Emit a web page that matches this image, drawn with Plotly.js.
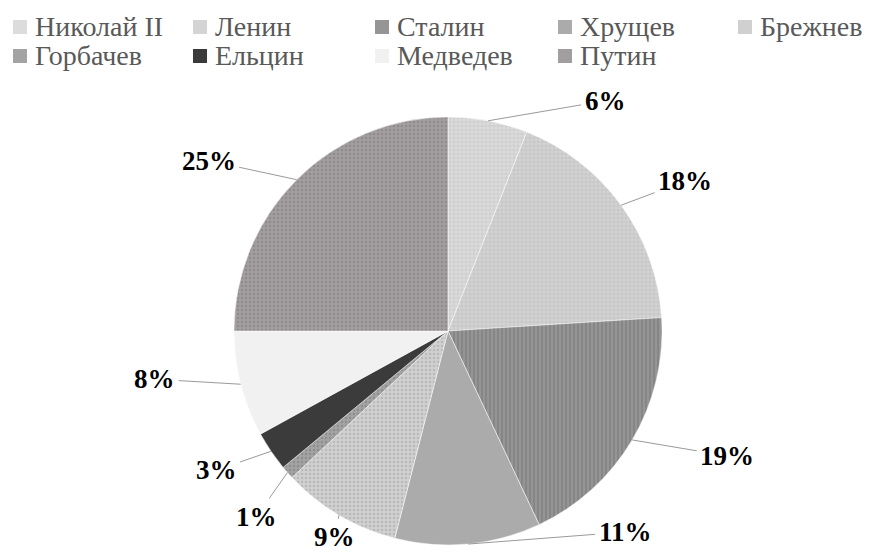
<!DOCTYPE html>
<html>
<head>
<meta charset="utf-8">
<script src="https://cdn.plot.ly/plotly-3.0.1.min.js"></script>
<style>html,body{margin:0;padding:0;background:#fff}#chart{width:869px;height:556px}</style>
</head>
<body>
<div id="chart"></div>
<script>
// ---- data ----
var leaders = ["Николай II", "Ленин", "Сталин", "Хрущев", "Брежнев", "Горбачев", "Ельцин", "Медведев", "Путин"];
var shares = [6, 18, 19, 11, 9, 1, 3, 8, 25];
var percentLabels = ["6%", "18%", "19%", "11%", "9%", "1%", "3%", "8%", "25%"];

// ---- styles (not data) ----
var sliceColors = ["#dcdcdc", "#d4d4d4", "#959595", "#ababab", "#d0d0d0", "#a3a3a3", "#3b3b3b", "#f1f1f1", "#a29ea0"];
var patternShapes = ["+", "+", "|", "", ".", ".", "", "", "."];
var patternFg = ["#c6c6c6", "#bdbdbd", "#7c7c7c", "#ababab", "#b9b9b9", "#8e8e8e", "#3b3b3b", "#f1f1f1", "#8f8b8d"];
// label offsets (px) from slice edge point
var labelDx = [117, 64, 95, 157, -5, -31, -55, -86, -88];
var labelDy = [-20, -24, 16, -12, 22, 44, 19, -5, -19];
// legend grid layout (px)
var legendCols = 5;
var legendColX = [33, 213, 395, 578, 758];
var legendRowY = [26, 55];
var swatchSize = 14, swatchGap = 6;

var W = 869, H = 556;
var cxPx = 448, cyPx = 331, rPx = 214;
var serif = "Liberation Serif";

var trace = {
  type: "pie",
  labels: leaders,
  values: shares,
  sort: false,
  direction: "clockwise",
  rotation: 0,
  textinfo: "none",
  hoverinfo: "label+percent",
  showlegend: false,
  marker: {
    colors: sliceColors,
    line: {color: "#ffffff", width: 0.5},
    pattern: {shape: patternShapes, fgcolor: patternFg, bgcolor: sliceColors, size: 4, solidity: 0.3}
  },
  domain: {
    x: [(cxPx - rPx) / W, (cxPx + rPx) / W],
    y: [1 - (cyPx + rPx) / H, 1 - (cyPx - rPx) / H]
  }
};

// percentage labels from data
var total = shares.reduce(function(a, b){ return a + b; }, 0);
var annotations = [];
var shapes = [];
var cum = 0;
for (var i = 0; i < shares.length; i++) {
  var mid = (cum + shares[i] / 2) / total * 2 * Math.PI;
  cum += shares[i];
  var px = cxPx + rPx * Math.sin(mid);
  var py = cyPx - rPx * Math.cos(mid);
  annotations.push({
    xref: "paper", yref: "paper",
    x: px / W, y: 1 - py / H,
    ax: labelDx[i], ay: labelDy[i],
    text: percentLabels[i],
    showarrow: true, arrowhead: 0, arrowwidth: 1, arrowcolor: "#9a9a9a",
    standoff: 0, startstandoff: 2,
    font: {family: serif, size: 27, color: "#000000", weight: "bold"}
  });
}

// legend (grid of swatch + name), built from the leaders array
for (var j = 0; j < leaders.length; j++) {
  var col = j % legendCols, row = Math.floor(j / legendCols);
  var tx = legendColX[col], ty = legendRowY[row];
  annotations.push({
    xref: "paper", yref: "paper",
    x: tx / W, y: 1 - ty / H,
    xanchor: "left", yanchor: "middle",
    text: leaders[j], showarrow: false,
    font: {family: serif, size: 28, color: "#595959"}
  });
  shapes.push({
    type: "rect", xref: "paper", yref: "paper",
    x0: (tx - swatchGap - swatchSize) / W, x1: (tx - swatchGap) / W,
    y0: 1 - (ty + swatchSize / 2 + 1) / H, y1: 1 - (ty - swatchSize / 2 + 1) / H,
    fillcolor: sliceColors[j], line: {width: 0}
  });
}

var layout = {
  width: W, height: H,
  margin: {l: 0, r: 0, t: 0, b: 0},
  paper_bgcolor: "#ffffff",
  showlegend: false,
  annotations: annotations,
  shapes: shapes
};

Plotly.newPlot("chart", [trace], layout, {displayModeBar: false, staticPlot: true});
</script>
</body>
</html>
